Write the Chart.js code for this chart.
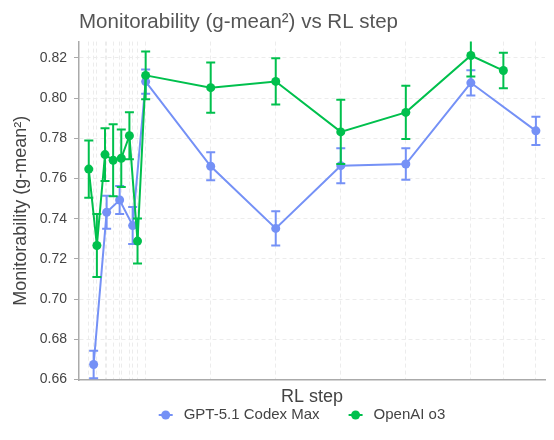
<!DOCTYPE html>
<html>
<head>
<meta charset="utf-8">
<script src="https://cdn.jsdelivr.net/npm/chart.js@4.4.1/dist/chart.umd.min.js"></script>
<style>
  html, body { margin: 0; padding: 0; background: #fff; }
</style>
</head>
<body>
<canvas id="monitorChart" width="554" height="440"></canvas>
<script>
// RL steps and g-mean^2 values
var codexSteps = [20, 40, 60, 80, 100, 200, 300, 400, 500, 600, 700];
var codexMean  = [0.6675, 0.7432, 0.7493, 0.7366, 0.8082, 0.7661, 0.7352, 0.7664, 0.7672, 0.8076, 0.7837];
var codexErr   = [0.0068, 0.0082, 0.0070, 0.0092, 0.0060, 0.0070, 0.0085, 0.0087, 0.0078, 0.0063, 0.0070];

var o3Steps = [12.5, 25, 37.5, 50, 62.5, 75, 87.5, 100, 200, 300, 400, 500, 600, 650];
var o3Mean  = [0.7647, 0.7267, 0.7719, 0.7691, 0.7701, 0.7813, 0.7289, 0.8113, 0.8052, 0.8083, 0.7832, 0.7929, 0.8212, 0.8137];
var o3Err   = [0.0142, 0.0157, 0.0131, 0.0179, 0.0143, 0.0117, 0.0112, 0.0119, 0.0125, 0.0115, 0.0160, 0.0132, 0.0105, 0.0088];

var yTicks = [0.66, 0.68, 0.70, 0.72, 0.74, 0.76, 0.78, 0.80, 0.82];

var FONT = "'Liberation Sans', Arial, sans-serif";
var BLUE = "#7591f6";
var GREEN = "#00c04d";

function toPoints(xs, ys) {
  var pts = [];
  for (var i = 0; i < xs.length; i++) {
    pts.push({ x: xs[i], y: ys[i] });
  }
  return pts;
}

// vertical grid line at every step that has a point
var gridSteps = codexSteps.concat(o3Steps).filter(function (v, i, a) {
  return a.indexOf(v) === i;
}).sort(function (a, b) { return a - b; });

/* error bars, drawn just under each dataset's own line */
var errorBarPlugin = {
  id: "errorBars",
  beforeDatasetDraw: function (chart, args) {
    var ds = chart.data.datasets[args.index];
    if (!ds.errors) return;
    var ctx = chart.ctx;
    var sx = chart.scales.x, sy = chart.scales.y, area = chart.chartArea;
    ctx.save();
    ctx.beginPath();
    ctx.rect(area.left, area.top, area.right - area.left, area.bottom - area.top);
    ctx.clip();
    ctx.strokeStyle = ds.borderColor;
    ctx.lineWidth = 2;
    for (var i = 0; i < ds.data.length; i++) {
      var px = sx.getPixelForValue(ds.data[i].x);
      var top = sy.getPixelForValue(ds.data[i].y + ds.errors[i]);
      var bot = sy.getPixelForValue(ds.data[i].y - ds.errors[i]);
      ctx.beginPath();
      ctx.moveTo(px, top); ctx.lineTo(px, bot);
      ctx.moveTo(px - 4.5, top); ctx.lineTo(px + 4.5, top);
      ctx.moveTo(px - 4.5, bot); ctx.lineTo(px + 4.5, bot);
      ctx.stroke();
    }
    ctx.restore();
  }
};

/* legend row under the x title */
var legendPlugin = {
  id: "bottomLegend",
  afterDraw: function (chart) {
    var ctx = chart.ctx, area = chart.chartArea;
    ctx.save();
    ctx.font = "15px " + FONT;
    var items = chart.data.datasets.map(function (ds) {
      return { label: ds.label, color: ds.borderColor, w: ctx.measureText(ds.label).width };
    });
    var total = 29 * (items.length - 1);
    items.forEach(function (it) { total += 25 + it.w; });
    var x = (area.left + area.right) / 2 - 10 - total / 2;
    var y = chart.height - 25;
    ctx.textBaseline = "middle";
    ctx.textAlign = "left";
    items.forEach(function (it) {
      var cx = x + 7;
      ctx.strokeStyle = it.color;
      ctx.lineWidth = 2;
      ctx.beginPath();
      ctx.moveTo(cx - 7, y); ctx.lineTo(cx + 7, y);
      ctx.stroke();
      ctx.fillStyle = it.color;
      ctx.beginPath();
      ctx.arc(cx, y, 4.5, 0, Math.PI * 2);
      ctx.fill();
      ctx.fillStyle = "#444";
      ctx.fillText(it.label, cx + 18, y);
      x += 25 + it.w + 29;
    });
    ctx.restore();
  }
};

Chart.defaults.font.family = FONT;

var ctx = document.getElementById("monitorChart");
var monitorChart = new Chart(ctx, {
  type: "line",
  data: {
    datasets: [{
      label: "GPT-5.1 Codex Max",
      data: toPoints(codexSteps, codexMean),
      errors: codexErr,
      borderColor: BLUE,
      backgroundColor: BLUE,
      borderWidth: 2,
      pointRadius: 4.5,
      pointBorderWidth: 0,
      pointBackgroundColor: BLUE,
      tension: 0,
      order: 1
    }, {
      label: "OpenAI o3",
      data: toPoints(o3Steps, o3Mean),
      errors: o3Err,
      borderColor: GREEN,
      backgroundColor: GREEN,
      borderWidth: 2,
      pointRadius: 4.5,
      pointBorderWidth: 0,
      pointBackgroundColor: GREEN,
      tension: 0,
      order: 0
    }]
  },
  options: {
    responsive: false,
    animation: false,
    layout: { padding: { left: 0, right: 9, top: 0, bottom: 32 } },
    plugins: {
      legend: { display: false },
      tooltip: { enabled: false },
      title: {
        display: true,
        text: "Monitorability (g-mean²) vs RL step",
        align: "start",
        fullSize: false,
        color: "#555",
        font: { size: 20.5, weight: "normal" },
        padding: { top: 10, bottom: 7 }
      }
    },
    scales: {
      x: {
        type: "linear",
        min: -2.5,
        max: 714,
        afterBuildTicks: function (scale) {
          scale.ticks = gridSteps.map(function (v) { return { value: v }; });
        },
        afterFit: function (scale) { scale.height = 28; },
        ticks: { display: false },
        grid: { color: "#ececec", drawTicks: false },
        border: { color: "#aaa", width: 1.5, dash: [4, 3] },
        title: {
          display: true,
          text: "RL step",
          color: "#444",
          font: { size: 18 },
          padding: { top: 0, bottom: 0 }
        }
      },
      y: {
        min: 0.6598,
        max: 0.8281,
        afterBuildTicks: function (scale) {
          scale.ticks = yTicks.map(function (v) { return { value: v }; });
        },
        afterFit: function (scale) { scale.width = 79; },
        ticks: {
          color: "#444",
          font: { size: 14 },
          padding: 7,
          callback: function (v) { return v.toFixed(2); }
        },
        grid: { color: "#ececec", tickLength: 5, tickColor: "#aaa", tickBorderDash: [] },
        border: { color: "#aaa", width: 1.5, dash: [4, 3] },
        title: {
          display: true,
          text: "Monitorability (g-mean²)",
          color: "#444",
          font: { size: 18 },
          padding: { top: 10, bottom: 0 }
        }
      }
    }
  },
  plugins: [errorBarPlugin, legendPlugin]
});
</script>
</body>
</html>
